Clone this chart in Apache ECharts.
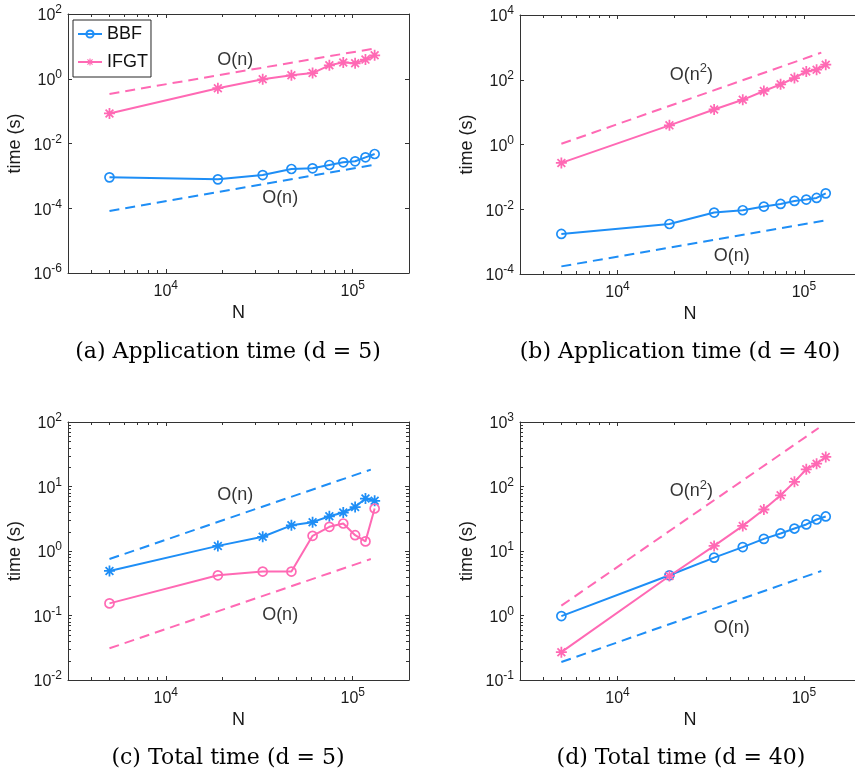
<!DOCTYPE html>
<html><head><meta charset="utf-8">
<script src="https://cdn.jsdelivr.net/npm/echarts@6/dist/echarts.min.js"></script>
<style>html,body{margin:0;padding:0;background:#fff;overflow:hidden}#c{width:855px;height:774px}</style>
</head><body><div id="c"></div>
<script>
// ---------- data ----------
const N = [5000, 19000, 33000, 47000, 61000, 75000, 89000, 103000, 117000, 131000];

const aBBF  = [9.0e-4, 7.8e-4, 1.06e-3, 1.63e-3, 1.71e-3, 2.17e-3, 2.62e-3, 2.82e-3, 3.74e-3, 4.74e-3];
const aIFGT = [0.085, 0.51, 0.96, 1.28, 1.5, 2.6, 3.2, 3.0, 3.9, 5.3];
const aRefIFGT = [[5000, 0.34], [129000, 8.5]];
const aRefBBF  = [[5000, 8.2e-5], [129000, 2.17e-3]];

const bBBF  = [1.73e-3, 3.5e-3, 7.9e-3, 9.3e-3, 1.21e-2, 1.46e-2, 1.81e-2, 1.99e-2, 2.24e-2, 3.1e-2];
const bIFGT = [0.27, 3.9, 12.1, 24, 45, 72, 113, 181, 204, 292];
const bRefIFGT = [[5000, 1.05], [124000, 686]];
const bRefBBF  = [[5000, 1.72e-4], [130000, 4.5e-3]];

const cBBF  = [0.49, 1.2, 1.66, 2.5, 2.8, 3.45, 3.95, 4.8, 6.5, 6.0];
const cIFGT = [0.154, 0.42, 0.48, 0.48, 1.72, 2.37, 2.67, 1.76, 1.41, 4.56];
const cRefBBF  = [[5000, 0.75], [125000, 18.3]];
const cRefIFGT = [[5000, 0.031], [125000, 0.75]];

const dBBF  = [0.98, 4.2, 7.9, 11.5, 15.4, 18.7, 22.3, 25.8, 30.8, 34.3];
const dIFGT = [0.27, 4.1, 12, 24.5, 44, 73, 118, 185, 226, 287];
const dRefIFGT = [[5000, 1.42], [120000, 807]];
const dRefBBF  = [[5000, 0.19], [124000, 4.9]];

// annotation text positions (data coords)
const aNotes = [[23500, 3.8, 'O(n)'], [40900, 2.07e-4, 'O(n)']];
const bNotes = [[24900, 160, 'O(n2)'], [41000, 3.69e-4, 'O(n)']];
const cNotes = [[23500, 7.5, 'O(n)'], [40900, 0.10, 'O(n)']];
const dNotes = [[24900, 90, 'O(n2)'], [41000, 0.63, 'O(n)']];

const xRange = [3000, 200000];
const yRanges = [[1e-6, 1e2], [1e-4, 1e4], [1e-2, 1e2], [1e-1, 1e3]];
const yIntervals = [2, 2, 1, 1];
const xMinorTicks = [4000, 5000, 6000, 7000, 8000, 9000, 20000, 30000, 40000, 50000, 60000, 70000, 80000, 90000];
const yMinorMult = [2, 3, 4, 5, 6, 7, 8, 9];

const captions = ['(a) Application time (d = 5)', '(b) Application time (d = 40)', '(c) Total time (d = 5)', '(d) Total time (d = 40)'];

// ---------- style ----------
const BLUE = '#1E8EF6';
const PINK = '#FF69B4';
const AX = '#333333';
const SANS = "'Liberation Sans', Arial, Helvetica, sans-serif";
const SERIF = "'DejaVu Serif', serif";
const STAR = 'path://M-1.6,-10L1.6,-10L1.6,10L-1.6,10Z M-10,-1.6L10,-1.6L10,1.6L-10,1.6Z M-5.94,-8.2L8.2,5.94L5.94,8.2L-8.2,-5.94Z M8.2,-5.94L-5.94,8.2L-8.2,5.94L5.94,-8.2Z';

const grids = [
  {left: 68, top: 14, width: 341, height: 259, outerBoundsMode: 'none'},
  {left: 520, top: 15, width: 340, height: 259, outerBoundsMode: 'none'},
  {left: 68, top: 422, width: 341, height: 258, outerBoundsMode: 'none'},
  {left: 520, top: 422, width: 340, height: 258, outerBoundsMode: 'none'}
];

function pow10(v) {
  const e = Math.log10(v), r = Math.round(e);
  if (Math.abs(e - r) > 1e-6) return '';
  return '{b|10}{s|' + r + '}';
}
const richNum = {
  b: {fontSize: 16, fontFamily: SANS, color: '#1a1a1a', verticalAlign: 'bottom'},
  s: {fontSize: 12, fontFamily: SANS, color: '#1a1a1a', verticalAlign: 'top', padding: [0, 0, 8, 0]}
};
const richNote = {
  b: {fontSize: 18, fontFamily: SANS, color: '#000', verticalAlign: 'bottom'},
  s: {fontSize: 13, fontFamily: SANS, color: '#000', verticalAlign: 'top', padding: [0, 0, 9, 0]}
};

const xAxes = [], yAxes = [], series = [];

function lineSeries(gi, name, data, color, marker) {
  const circ = marker === 'o';
  return {
    type: 'line', name: name, xAxisIndex: 2 * gi, yAxisIndex: 2 * gi,
    data: N.map((n, i) => [n, data[i]]),
    symbol: circ ? 'circle' : STAR,
    symbolSize: circ ? 9 : 11,
    showSymbol: true,
    lineStyle: {color: color, width: 2},
    itemStyle: circ ? {color: 'rgba(255,255,255,0)', borderColor: color, borderWidth: 1.7}
                    : {color: color, borderWidth: 0},
    z: 3, silent: true
  };
}
function refSeries(gi, data, color) {
  return {
    type: 'line', xAxisIndex: 2 * gi, yAxisIndex: 2 * gi, data: data,
    symbol: 'none', lineStyle: {color: color, width: 2, type: [10, 6]}, z: 2, silent: true
  };
}
function noteSeries(gi, notes) {
  return {
    type: 'scatter', xAxisIndex: 2 * gi, yAxisIndex: 2 * gi,
    data: notes.map(d => ({value: [d[0], d[1]], txt: d[2]})),
    symbolSize: 0, itemStyle: {color: 'transparent'}, silent: true, z: 4,
    label: {
      show: true, position: 'inside',
      formatter: p => p.data.txt === 'O(n2)' ? '{b|O(n}{s|2}{b|)}' : '{b|O(n)}',
      rich: richNote
    }
  };
}
function minorSeries(gi) {
  const yr = yRanges[gi];
  const pts = xMinorTicks.map(v => [v, yr[0], 0]);
  if (yIntervals[gi] === 1) {
    for (let e = Math.round(Math.log10(yr[0])); e < Math.round(Math.log10(yr[1])); e++) {
      yMinorMult.forEach(m => pts.push([xRange[0], m * Math.pow(10, e), 1]));
    }
  }
  return {
    type: 'custom', xAxisIndex: 2 * gi, yAxisIndex: 2 * gi, silent: true, z: 6,
    data: pts,
    renderItem: (params, api) => {
      const cs = params.coordSys;
      const p = api.coord([api.value(0), api.value(1)]);
      const st = {stroke: AX, lineWidth: 1};
      if (api.value(2) === 0) {
        const x = Math.round(p[0]) + 0.5, b = cs.y + cs.height, t = cs.y;
        return {type: 'group', children: [
          {type: 'line', shape: {x1: x, y1: b, x2: x, y2: b - 3}, style: st},
          {type: 'line', shape: {x1: x, y1: t, x2: x, y2: t + 3}, style: st}
        ]};
      } else {
        const y = Math.round(p[1]) + 0.5, l = cs.x, r = cs.x + cs.width;
        return {type: 'group', children: [
          {type: 'line', shape: {x1: l, y1: y, x2: l + 3, y2: y}, style: st},
          {type: 'line', shape: {x1: r, y1: y, x2: r - 3, y2: y}, style: st}
        ]};
      }
    }
  };
}

grids.forEach((g, gi) => {
  const axLine = {show: true, lineStyle: {color: AX, width: 1}};
  const tick = {show: true, inside: true, length: 4, lineStyle: {color: AX}};
  const rightVisible = (g.left + g.width) <= 855;
  xAxes.push({
    type: 'log', logBase: 10, gridIndex: gi, min: xRange[0], max: xRange[1], position: 'bottom',
    axisLine: axLine, axisTick: tick, splitLine: {show: false},
    axisLabel: {formatter: pow10, rich: richNum, margin: 7},
    name: 'N', nameLocation: 'middle', nameGap: 31,
    nameTextStyle: {fontSize: 18, fontFamily: SANS, color: '#1a1a1a'}
  });
  xAxes.push({
    type: 'log', logBase: 10, gridIndex: gi, min: xRange[0], max: xRange[1], position: 'top',
    axisLine: axLine, axisTick: tick, splitLine: {show: false}, axisLabel: {show: false}
  });
  yAxes.push({
    type: 'log', logBase: 10, gridIndex: gi, min: yRanges[gi][0], max: yRanges[gi][1],
    interval: yIntervals[gi], position: 'left',
    axisLine: axLine, axisTick: tick, splitLine: {show: false},
    axisLabel: {formatter: pow10, rich: richNum, margin: 6},
    name: 'time (s)', nameLocation: 'middle', nameGap: 44,
    nameTextStyle: {fontSize: 18, fontFamily: SANS, color: '#1a1a1a'}
  });
  yAxes.push({
    type: 'log', logBase: 10, gridIndex: gi, min: yRanges[gi][0], max: yRanges[gi][1],
    interval: yIntervals[gi], position: 'right',
    axisLine: {show: rightVisible, lineStyle: {color: AX, width: 1}},
    axisTick: Object.assign({}, tick, {show: rightVisible}),
    splitLine: {show: false}, axisLabel: {show: false}
  });
});

// panel a
series.push(refSeries(0, aRefIFGT, PINK), refSeries(0, aRefBBF, BLUE));
series.push(lineSeries(0, 'BBF', aBBF, BLUE, 'o'), lineSeries(0, 'IFGT', aIFGT, PINK, '*'));
series.push(noteSeries(0, aNotes), minorSeries(0));
// panel b
series.push(refSeries(1, bRefIFGT, PINK), refSeries(1, bRefBBF, BLUE));
series.push(lineSeries(1, 'BBF', bBBF, BLUE, 'o'), lineSeries(1, 'IFGT', bIFGT, PINK, '*'));
series.push(noteSeries(1, bNotes), minorSeries(1));
// panel c (BBF drawn with asterisks, IFGT with circles)
series.push(refSeries(2, cRefBBF, BLUE), refSeries(2, cRefIFGT, PINK));
series.push(lineSeries(2, 'BBF', cBBF, BLUE, '*'), lineSeries(2, 'IFGT', cIFGT, PINK, 'o'));
series.push(noteSeries(2, cNotes), minorSeries(2));
// panel d
series.push(refSeries(3, dRefIFGT, PINK), refSeries(3, dRefBBF, BLUE));
series.push(lineSeries(3, 'BBF', dBBF, BLUE, 'o'), lineSeries(3, 'IFGT', dIFGT, PINK, '*'));
series.push(noteSeries(3, dNotes), minorSeries(3));

const capPos = [[228, 352], [680, 352], [228, 758], [681, 758]];
const graphic = captions.map((t, i) => ({
  type: 'text', x: capPos[i][0], y: capPos[i][1], silent: true,
  style: {text: t, font: '22px ' + SERIF, fill: '#000', textAlign: 'center', textVerticalAlign: 'middle'}
}));

const chart = echarts.init(document.getElementById('c'), null, {renderer: 'canvas'});
chart.setOption({
  animation: false,
  backgroundColor: '#fff',
  grid: grids,
  xAxis: xAxes,
  yAxis: yAxes,
  legend: {
    data: ['BBF', 'IFGT'], orient: 'vertical', left: 73, top: 20,
    padding: [5, 3, 6, 4], itemGap: 10, itemWidth: 24, itemHeight: 9,
    borderColor: '#262626', borderWidth: 1, backgroundColor: '#fff',
    textStyle: {fontSize: 18, fontFamily: SANS, color: '#111'},
    selectedMode: false
  },
  series: series,
  graphic: graphic
});
</script></body></html>
